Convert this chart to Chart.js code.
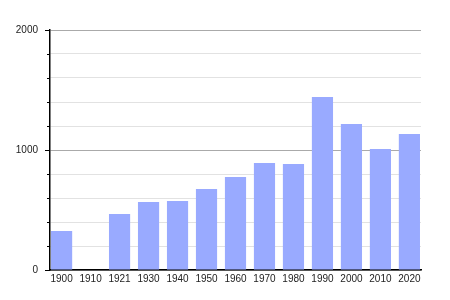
<!DOCTYPE html>
<html>
<head>
<meta charset="utf-8">
<script src="https://cdn.jsdelivr.net/npm/chart.js@4"></script>
<style>
  html, body { margin: 0; padding: 0; background: #fff; }
  #wrap { width: 450px; height: 300px; }
</style>
</head>
<body>
<div id="wrap"><canvas id="popChart"></canvas></div>
<script>
// census years and population
const years = ["1900", "1910", "1921", "1930", "1940", "1950", "1960", "1970", "1980", "1990", "2000", "2010", "2020"];
const population = [325, null, 467, 567, 575, 675, 775, 892, 883, 1442, 1217, 1008, 1133];
const yTicks = [0, 1000, 2000];

const barColor = "rgb(153, 170, 255)";

// short ticks for the minor grid steps on the left axis
const minorTicks = {
    id: "minorTicks",
    afterDraw(chart) {
        const yScale = chart.scales.y;
        const ctx = chart.ctx;
        ctx.save();
        ctx.strokeStyle = "#000";
        ctx.lineWidth = 1;
        yScale.ticks.forEach((t) => {
            if (yTicks.includes(t.value)) return;
            const py = Math.round(yScale.getPixelForValue(t.value)) + 0.5;
            ctx.beginPath();
            ctx.moveTo(yScale.right - 3, py);
            ctx.lineTo(yScale.right, py);
            ctx.stroke();
        });
        ctx.restore();
    },
};

const ctx = document.getElementById("popChart").getContext("2d");
new Chart(ctx, {
    type: "bar",
    data: {
        datasets: [
            {
                data: population.map((v, i) => ({ x: i, y: v })),
                backgroundColor: barColor,
                borderWidth: 0,
                barPercentage: 0.73,
                categoryPercentage: 1,
            },
        ],
    },
    options: {
        responsive: true,
        maintainAspectRatio: false,
        animation: false,
        layout: { padding: { top: 30, right: 29, left: 0, bottom: 0 } },
        plugins: {
            legend: { display: false },
            tooltip: { enabled: false },
        },
        scales: {
            x: {
                type: "linear",
                offset: false,
                min: -0.4,
                max: years.length - 0.6,
                afterFit: (scale) => { scale.height = 30; },
                border: { color: "#000", width: 1.5 },
                grid: { display: false, drawTicks: false },
                ticks: {
                    stepSize: 1,
                    includeBounds: false,
                    autoSkip: false,
                    maxRotation: 0,
                    padding: 3,
                    color: "#222",
                    font: { family: "Liberation Sans", size: 10 },
                    callback: (v) => (Number.isInteger(v) ? years[v] : ""),
                },
            },
            y: {
                min: 0,
                max: 2000,
                afterFit: (scale) => { scale.width = 50; },
                border: { color: "#000", width: 1.5 },
                grid: {
                    color: (c) => (yTicks.includes(c.tick.value) ? "#aaaaaa" : "#e2e2e2"),
                    tickColor: (c) => (yTicks.includes(c.tick.value) ? "#000" : "rgba(0,0,0,0)"),
                    tickLength: 5,
                },
                ticks: {
                    stepSize: 200,
                    autoSkip: false,
                    padding: 7,
                    color: "#222",
                    font: { family: "Liberation Sans", size: 10 },
                    callback: (v) => (yTicks.includes(v) ? String(v) : ""),
                },
            },
        },
    },
    plugins: [minorTicks],
});
</script>
</body>
</html>
